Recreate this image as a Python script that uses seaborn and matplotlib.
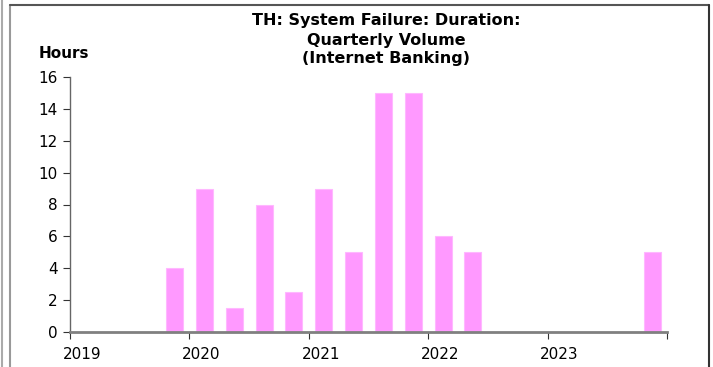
import seaborn as sns
import pandas as pd
import matplotlib.pyplot as plt
from matplotlib.lines import Line2D

# quarterly data, 2019Q1 .. 2023Q4
quarters = ["2019Q1", "2019Q2", "2019Q3", "2019Q4",
            "2020Q1", "2020Q2", "2020Q3", "2020Q4",
            "2021Q1", "2021Q2", "2021Q3", "2021Q4",
            "2022Q1", "2022Q2", "2022Q3", "2022Q4",
            "2023Q1", "2023Q2", "2023Q3", "2023Q4"]
hours = [0, 0, 0, 4,
         9, 1.5, 8, 2.5,
         9, 5, 15, 15,
         6, 5, 0, 0,
         0, 0, 0, 5]
years = ["2019", "2020", "2021", "2022", "2023"]
title_lines = ["TH: System Failure: Duration:", "Quarterly Volume", "(Internet Banking)"]

df = pd.DataFrame({"quarter": quarters, "hours": hours})

sns.set_theme(style="white")
plt.rcParams["font.family"] = ["DejaVu Sans"]
plt.rcParams["text.color"] = "black"

fig = plt.figure(figsize=(7.13, 3.67), dpi=100)
ax = fig.add_axes([70 / 713, 35 / 367, 597 / 713, 255 / 367])

sns.barplot(data=df, x="quarter", y="hours", order=quarters, color="#FF99FF",
            saturation=1, width=0.57, edgecolor="#FFB8FF", linewidth=0.8, ax=ax)

ax.set_xlim(-0.5, len(quarters) - 0.5)
ax.set_ylim(0, 16)
ax.set_yticks(range(0, 17, 2))
ax.tick_params(axis="y", labelsize=11, length=5, width=0.8, color="#333333",
               left=True, pad=4, labelcolor="black")

# year boundaries as major ticks, year labels as minor ticks
ax.set_xticks([i * 4 - 0.5 for i in range(len(years) + 1)])
ax.set_xticklabels([])
ax.set_xticks([i * 4 - 0.1 for i in range(len(years))], minor=True)
ax.set_xticklabels(years, minor=True)
ax.tick_params(axis="x", which="major", length=5, width=0.8, color="#333333", bottom=True)
ax.tick_params(axis="x", which="minor", length=0, labelsize=11, pad=11, labelcolor="black")

ax.set_xlabel("")
ax.set_ylabel("")
for s in ["top", "right"]:
    ax.spines[s].set_visible(False)
ax.spines["left"].set_color("#666666")
ax.spines["left"].set_linewidth(1.0)
ax.spines["bottom"].set_color("#808080")
ax.spines["bottom"].set_linewidth(2)

for y, line in zip([20, 40, 59], title_lines):
    fig.text(386 / 713, 1 - y / 367, line, ha="center", va="center",
             fontsize=11.5, fontweight="bold", color="black")
fig.text(64 / 713, 1 - 53 / 367, "Hours", ha="center", va="center",
         fontsize=11, fontweight="bold", color="black")

# outer frame
fig.add_artist(Line2D([2 / 713, 2 / 713], [0, 1], color="#aaaaaa", lw=1.5))
fig.add_artist(Line2D([10 / 713, 10 / 713], [0, 1 - 5 / 367], color="#999999", lw=1.5))
fig.add_artist(Line2D([10 / 713, 708.5 / 713], [1 - 5 / 367, 1 - 5 / 367], color="#555555", lw=1.5))
fig.add_artist(Line2D([708.5 / 713, 708.5 / 713], [0, 1 - 5 / 367], color="#333333", lw=1.5))

fig.savefig("out.png", dpi=100)
